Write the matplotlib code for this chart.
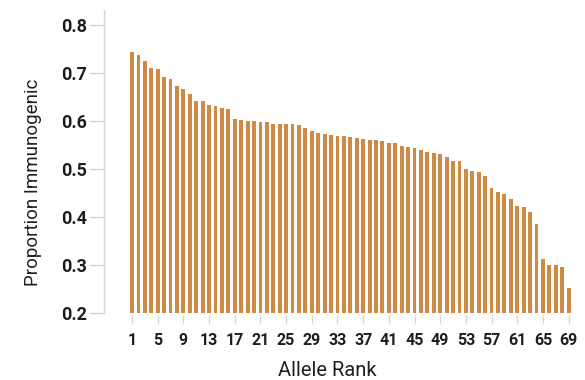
import numpy as np
import matplotlib
matplotlib.use("Agg")
import matplotlib.pyplot as plt

# proportion immunogenic per allele, sorted by rank
ranks = np.arange(1, 70)
proportion = [
    0.744, 0.737, 0.726, 0.710, 0.709, 0.692, 0.688, 0.674, 0.667, 0.656,
    0.641, 0.641, 0.633, 0.632, 0.627, 0.626, 0.605, 0.603, 0.601, 0.600,
    0.599, 0.597, 0.593, 0.593, 0.593, 0.593, 0.591, 0.586, 0.580, 0.576,
    0.572, 0.571, 0.569, 0.568, 0.566, 0.565, 0.562, 0.561, 0.560, 0.558,
    0.554, 0.554, 0.547, 0.545, 0.543, 0.540, 0.536, 0.533, 0.531, 0.524,
    0.517, 0.516, 0.500, 0.496, 0.494, 0.485, 0.460, 0.451, 0.447, 0.437,
    0.423, 0.420, 0.411, 0.385, 0.311, 0.299, 0.299, 0.296, 0.252,
]
xticks = list(range(1, 70, 4))
yticks = [0.2, 0.3, 0.4, 0.5, 0.6, 0.7, 0.8]

BAR = "#CF8A46"
GRID = "#d4d4d4"
TXT = "#1e1e1e"

plt.rcParams["font.family"] = ["Roboto", "DejaVu Sans"]

fig = plt.figure(figsize=(5.85, 3.8), dpi=100)
ax = fig.add_axes([104 / 585, 67.5 / 380, 471 / 585, 302.5 / 380])

ax.bar(ranks, np.array(proportion) - 0.2, bottom=0.2, width=0.6, color=BAR)

ax.set_xlim(-3.37, 70)
ax.set_ylim(0.2, 0.832)
ax.set_xticks(xticks)
ax.set_yticks(yticks)
ax.set_yticklabels([f"{v:.1f}" for v in yticks])

for s in ["top", "right"]:
    ax.spines[s].set_visible(False)
ax.spines["left"].set_color(GRID)
ax.spines["left"].set_linewidth(1.0)
ax.spines["bottom"].set_position(("outward", 2))
ax.spines["bottom"].set_color("none")

ax.tick_params(axis="y", length=10, width=1, color=GRID, pad=2,
               labelsize=13, labelcolor=TXT)
ax.tick_params(axis="x", length=6, width=1, color=GRID, pad=7,
               labelsize=11.5, labelcolor=TXT)
for lab in ax.get_xticklabels() + ax.get_yticklabels():
    lab.set_fontweight("bold")

ax.set_xlabel("Allele Rank", fontsize=14.5, color=TXT, labelpad=9)
ax.set_ylabel("Proportion Immunogenic", fontsize=13.5, color=TXT, labelpad=14)
ax.xaxis.label.set_x(0.473)
ax.yaxis.label.set_y(0.43)

fig.savefig("out.png", dpi=100)
